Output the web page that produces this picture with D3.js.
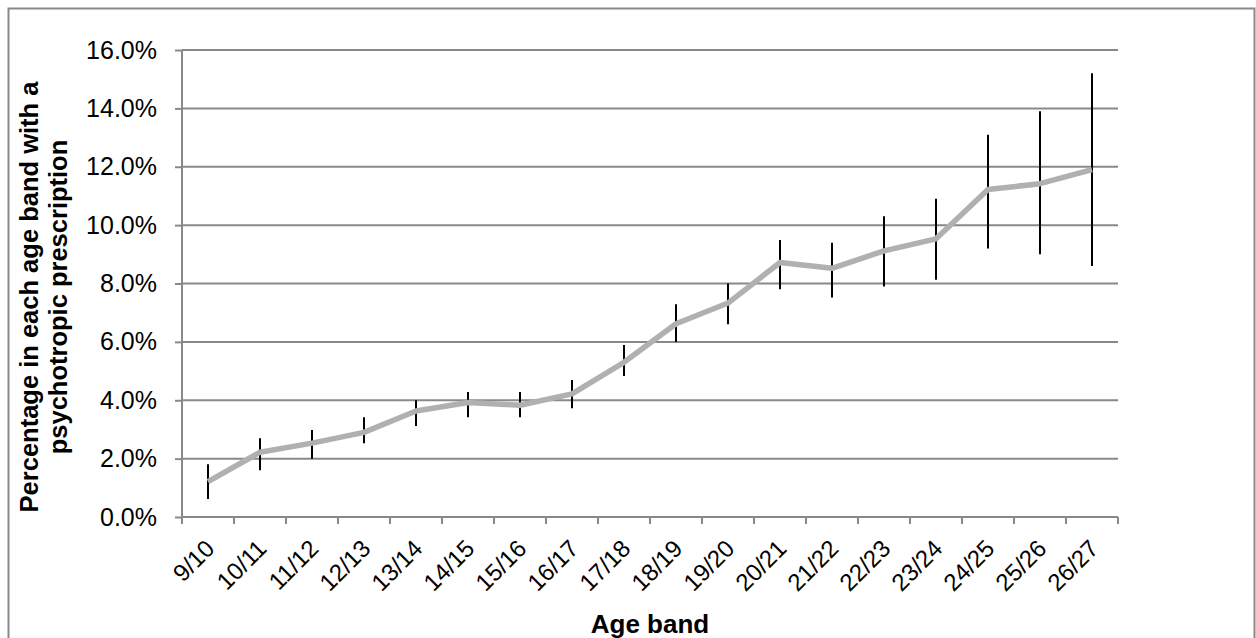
<!DOCTYPE html>
<html>
<head>
<meta charset="utf-8">
<script src="https://cdn.jsdelivr.net/npm/d3@7"></script>
<style>
  html, body { margin: 0; padding: 0; background: #fff; }
  svg { display: block; font-family: "Liberation Sans", Arial, sans-serif; }
</style>
</head>
<body>
<svg id="chart" width="1256" height="638"></svg>
<script>
// Age bands and share (%) of each band with a psychotropic prescription
const ageBands = ["9/10", "10/11", "11/12", "12/13", "13/14", "14/15", "15/16", "16/17", "17/18",
                  "18/19", "19/20", "20/21", "21/22", "22/23", "23/24", "24/25", "25/26", "26/27"];
const percent  = [1.21, 2.22, 2.53, 2.9, 3.63, 3.92, 3.83, 4.22, 5.3, 6.62, 7.33, 8.72, 8.52, 9.12, 9.53, 11.22, 11.42, 11.9];
const ciLower  = [0.62, 1.6, 2.0, 2.53, 3.12, 3.42, 3.42, 3.73, 4.83, 6.0, 6.6, 7.8, 7.52, 7.9, 8.13, 9.2, 9.0, 8.6];
const ciUpper  = [1.81, 2.7, 2.98, 3.42, 4.0, 4.28, 4.28, 4.69, 5.89, 7.29, 8.0, 9.49, 9.4, 10.3, 10.9, 13.1, 13.9, 15.2];
const yTicks   = [0, 2, 4, 6, 8, 10, 12, 14, 16];

const rows = ageBands.map((b, i) => ({ band: b, v: percent[i], lo: ciLower[i], hi: ciUpper[i] }));

const svg = d3.select("#chart");
const plot = { left: 182, right: 1118, top: 50, bottom: 517 };
const axisGrey = "#898989";

// outer frame
svg.append("rect")
  .attr("x", 8.5).attr("y", 8.5).attr("width", 1246).attr("height", 640)
  .attr("fill", "none").attr("stroke", axisGrey).attr("stroke-width", 2);

const x = d3.scaleBand().domain(ageBands).range([plot.left, plot.right]).padding(0);
const y = d3.scaleLinear().domain([0, 16]).range([plot.bottom, plot.top]);

// horizontal gridlines
svg.append("g").selectAll("line").data(yTicks.filter(t => t > 0)).join("line")
  .attr("x1", plot.left).attr("x2", plot.right)
  .attr("y1", d => y(d)).attr("y2", d => y(d))
  .attr("stroke", axisGrey).attr("stroke-width", 2);

// y axis
const yAxis = svg.append("g")
  .attr("transform", `translate(${plot.left},0)`)
  .call(d3.axisLeft(y).tickValues(yTicks).tickFormat(d => d.toFixed(1) + "%").tickSize(7).tickSizeOuter(0).tickPadding(18));
yAxis.select(".domain").attr("stroke", axisGrey).attr("stroke-width", 2)
  .attr("d", `M0,${plot.top}V${plot.bottom + 7}`);
yAxis.selectAll(".tick line").attr("stroke", axisGrey).attr("stroke-width", 2);
yAxis.selectAll(".tick text").attr("font-size", 25).attr("fill", "#000")
  .attr("font-family", "Liberation Sans, Arial, sans-serif");

// x axis: ticks on band boundaries, labels at band centres
const xAxisG = svg.append("g").attr("transform", `translate(0,${plot.bottom})`);
xAxisG.append("line")
  .attr("x1", plot.left).attr("x2", plot.right)
  .attr("stroke", axisGrey).attr("stroke-width", 2);
const boundaries = ageBands.map(b => x(b)).concat([x(ageBands[ageBands.length - 1]) + x.bandwidth()]);
xAxisG.selectAll("line.tk").data(boundaries).join("line").attr("class", "tk")
  .attr("x1", d => d).attr("x2", d => d).attr("y1", 0).attr("y2", 7)
  .attr("stroke", axisGrey).attr("stroke-width", 2);
xAxisG.selectAll("text").data(ageBands).join("text")
  .attr("transform", d => `translate(${x(d) + x.bandwidth() / 2 + 8},${33}) rotate(-45)`)
  .attr("text-anchor", "end")
  .attr("font-size", 24)
  .attr("fill", "#000")
  .text(d => d);

// error bars
svg.append("g").selectAll("line").data(rows).join("line")
  .attr("x1", d => x(d.band) + x.bandwidth() / 2)
  .attr("x2", d => x(d.band) + x.bandwidth() / 2)
  .attr("y1", d => y(d.lo)).attr("y2", d => y(d.hi))
  .attr("stroke", "#000").attr("stroke-width", 2);

// trend line
const line = d3.line()
  .x(d => x(d.band) + x.bandwidth() / 2)
  .y(d => y(d.v));
svg.append("path").datum(rows)
  .attr("d", line)
  .attr("fill", "none")
  .attr("stroke", "#b0b0b0")
  .attr("stroke-width", 5.5)
  .attr("stroke-linejoin", "round");

// axis titles
svg.append("text")
  .attr("x", (plot.left + plot.right) / 2).attr("y", 633)
  .attr("text-anchor", "middle").attr("font-size", 26).attr("font-weight", "bold")
  .text("Age band");

const yTitle = svg.append("text")
  .attr("transform", `translate(38,297) rotate(-90)`)
  .attr("text-anchor", "middle").attr("font-size", 25.5).attr("font-weight", "bold");
yTitle.append("tspan").attr("x", 0).attr("dy", 0).text("Percentage in each age band with a");
yTitle.append("tspan").attr("x", 0).attr("dy", 29).text("psychotropic prescription");
</script>
</body>
</html>
